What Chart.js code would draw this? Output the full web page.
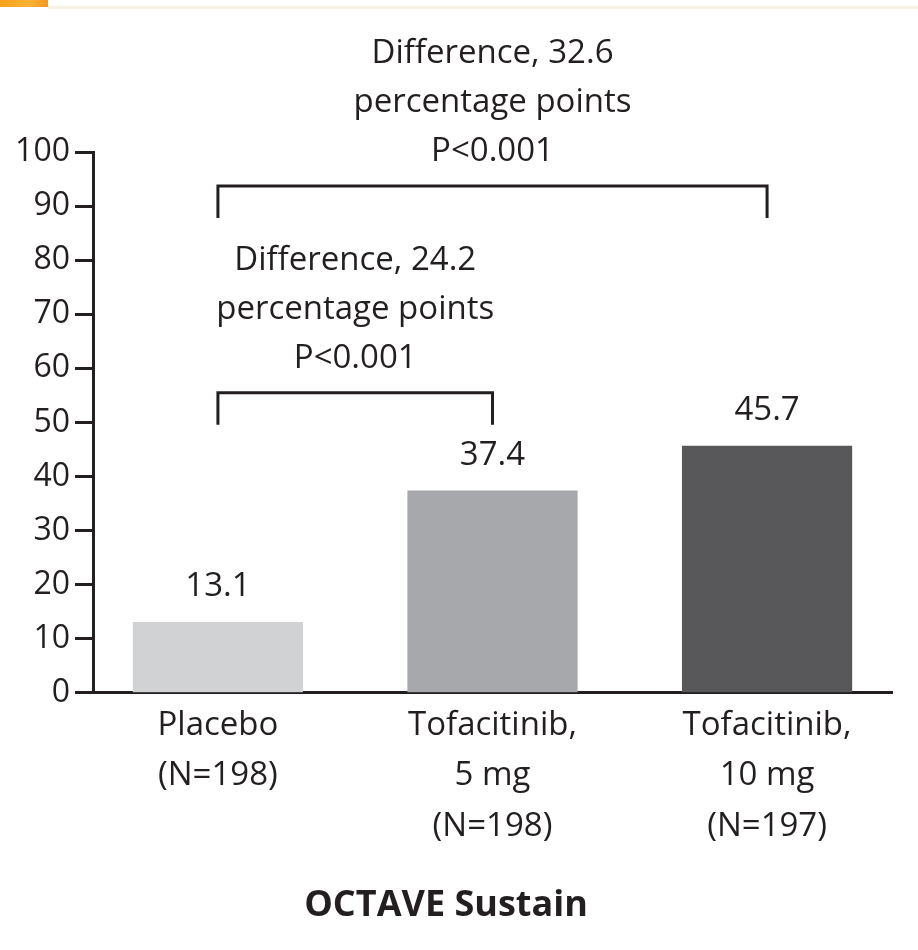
<!DOCTYPE html>
<html>
<head>
<meta charset="utf-8">
<title>OCTAVE Sustain</title>
<script src="https://cdn.jsdelivr.net/npm/chart.js@4.4.1/dist/chart.umd.min.js"></script>
<style>
  html, body { margin: 0; padding: 0; background: #fff; }
  #wrap { position: relative; width: 918px; height: 950px; }
  .corner { position: absolute; left: 0; top: 0; width: 48px; height: 7px;
            background: linear-gradient(90deg, #f7a21b, #f9b233 60%, #f39a1e); }
  .rule { position: absolute; left: 48px; top: 6px; right: 0; height: 3px; background: #f8f2e4; }
</style>
</head>
<body>
<div id="wrap">
  <div class="corner"></div>
  <div class="rule"></div>
  <canvas id="chart" width="918" height="950"></canvas>
</div>
<script>
// groups along the x axis, one label line per array entry
const groups = [
  ['Placebo', '(N=198)'],
  ['Tofacitinib,', '5 mg', '(N=198)'],
  ['Tofacitinib,', '10 mg', '(N=197)']
];
const remission = [13.1, 37.4, 45.7];
const barColors = ['#d1d2d4', '#a7a8ab', '#58585a'];
const yTicks = [0, 10, 20, 30, 40, 50, 60, 70, 80, 90, 100];

// pairwise comparisons against placebo
const compFrom = [0, 0];
const compTo = [1, 2];
const compDiff = ['24.2', '32.6'];
const compP = ['P<0.001', 'P<0.001'];

const ink = '#231f20';
const font = '"Open Sans", "Noto Sans", sans-serif';

// bar values and comparison brackets
const annotate = {
  id: 'annotate',
  afterDatasetsDraw(chart, args, opts) {
    const ctx = chart.ctx;
    const xs = chart.scales.x, ys = chart.scales.y;
    ctx.save();
    ctx.fillStyle = ink;
    ctx.textAlign = 'center';
    ctx.textBaseline = 'middle';
    ctx.font = '33px ' + font;
    chart.getDatasetMeta(0).data.forEach((bar, i) => {
      ctx.fillText(remission[i].toFixed(1), bar.x, bar.y - 35);
    });

    ctx.strokeStyle = ink;
    ctx.lineWidth = 3;
    compFrom.forEach((from, i) => {
      const x0 = xs.getPixelForValue(from);
      const x1 = xs.getPixelForValue(compTo[i]);
      const top = ys.getPixelForValue(opts.levels[i]);
      ctx.beginPath();
      ctx.moveTo(x0, top + 32);
      ctx.lineTo(x0, top);
      ctx.lineTo(x1, top);
      ctx.lineTo(x1, top + 32);
      ctx.stroke();
      const lines = ['Difference, ' + compDiff[i], 'percentage points', compP[i]];
      const cx = (x0 + x1) / 2;
      lines.forEach((t, k) => {
        ctx.fillText(t, cx, top - 34 - (lines.length - 1 - k) * 49);
      });
    });
    ctx.restore();
  }
};

new Chart(document.getElementById('chart'), {
  type: 'bar',
  data: {
    datasets: [{
      data: remission.map((v, i) => ({ x: i, y: v })),
      backgroundColor: barColors,
      borderWidth: 0,
      barPercentage: 0.62,
      categoryPercentage: 1
    }]
  },
  options: {
    responsive: false,
    animation: false,
    layout: { padding: { top: 152, right: 26, left: 0, bottom: 0 } },
    plugins: {
      legend: { display: false },
      tooltip: { enabled: false },
      title: {
        display: true,
        position: 'bottom',
        text: 'OCTAVE Sustain',
        color: ink,
        font: { family: font, size: 36, weight: 'bold', lineHeight: 1.2 },
        padding: { top: 0, bottom: 23 }
      },
      annotate: { levels: [55.5, 93.7] }
    },
    scales: {
      x: {
        type: 'linear',
        offset: false,
        min: -0.455,
        max: 2.455,
        afterBuildTicks: s => { s.ticks = groups.map((g, i) => ({ value: i })); },
        afterFit: s => { s.height = 191; },
        grid: { display: false, drawTicks: false, offset: false },
        border: { color: ink, width: 3 },
        ticks: {
          color: ink,
          padding: 8,
          maxRotation: 0,
          autoSkip: false,
          font: { family: font, size: 33, lineHeight: 1.52 },
          callback: v => groups[v]
        }
      },
      y: {
        min: 0,
        max: 100,
        afterBuildTicks: s => { s.ticks = yTicks.map(v => ({ value: v })); },
        afterFit: s => { s.width = 93; },
        grid: { drawOnChartArea: false, tickLength: 18, tickWidth: 3, tickColor: ink },
        border: { color: ink, width: 3 },
        ticks: {
          color: ink,
          padding: 5,
          font: { family: font, size: 32 }
        }
      }
    }
  },
  plugins: [annotate]
});
</script>
</body>
</html>
